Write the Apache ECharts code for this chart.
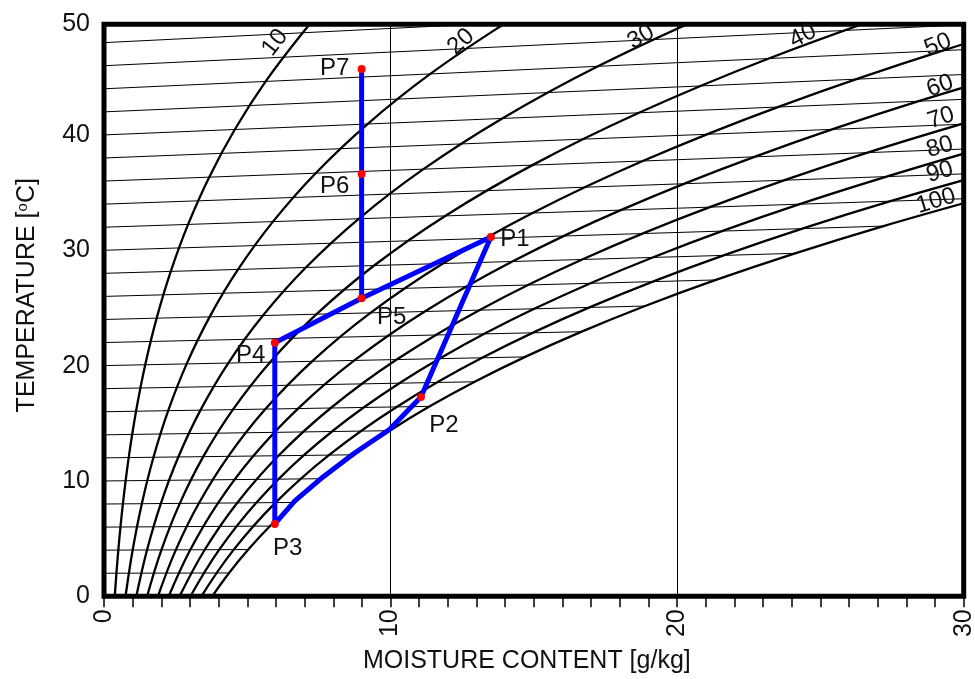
<!DOCTYPE html>
<html><head><meta charset="utf-8">
<script src="https://cdn.jsdelivr.net/npm/echarts@6/dist/echarts.min.js"></script>
<style>html,body{margin:0;padding:0;background:#fff}#c{width:975px;height:679px}</style>
</head><body><div id="c"></div><script>
// ---- data ----
const xTickLabels = ['0', '10', '20', '30'];
const yTickLabels = ['0', '10', '20', '30', '40', '50'];
const rhLevels = ['10', '20', '30', '40', '50', '60', '70', '80', '90', '100'];

// relative humidity curves: [moisture g/kg, chart temperature]
const rh10 = [[0.3755,0],[0.4998,4.0051],[0.6594,8.0136],[0.8623,12.0266],[1.1183,16.046],[1.439,20.074],[1.8378,24.1134],[2.3302,28.1677],[2.9345,32.2413],[3.6712,36.3397],[4.5645,40.4692],[5.6415,44.638],[6.934,48.8554],[7.671,50.986]];
const rh20 = [[0.7514,0],[1.0004,4.0103],[1.3202,8.0271],[1.7271,12.0533],[2.2407,16.0921],[2.8848,20.1483],[3.6865,24.2274],[4.678,28.3366],[5.8967,32.4849],[7.386,36.6834],[9.1964,40.9454],[11.3863,45.2876],[14.0242,49.73],[15.534,51.996]];
const rh30 = [[1.1278,0],[1.5018,4.0154],[1.9823,8.0408],[2.5942,12.08],[3.3671,16.1385],[4.3372,20.2229],[5.5462,24.3421],[7.0434,28.5068],[8.8872,32.7309],[11.1451,37.0312],[13.8973,41.4286],[17.2371,45.9492],[21.2762,50.6247]];
const rh40 = [[1.5047,0],[2.004,4.0206],[2.6459,8.0544],[3.4637,12.1068],[4.4975,16.1849],[5.7963,20.2979],[7.417,24.4575],[9.4268,28.6784],[11.9062,32.9792],[14.9493,37.3831],[18.6688,41.9191],[23.1972,46.6232],[28.695,51.5398]];
const rh50 = [[1.8819,0],[2.507,4.0258],[3.3109,8.0681],[4.3357,12.1337],[5.6321,16.2316],[7.2624,20.3733],[9.299,24.5736],[11.8283,28.8512],[14.9544,33.2299],[18.7997,37.7394],[23.5125,42.4171],[29.2694,47.3098],[36.2876,52.4764]];
const rh60 = [[2.2597,0],[3.0108,4.031],[3.9773,8.0818],[5.21,12.1607],[6.7708,16.2784],[8.7352,20.449],[11.1922,24.6903],[14.2482,29.0253],[18.032,33.483],[22.6968,38.0999],[28.4299,42.9226],[35.4573,48.0096]];
const rh70 = [[2.6379,0],[3.5155,4.0361],[4.6452,8.0955],[6.0869,12.1877],[7.9136,16.3254],[10.215,20.5251],[13.0968,24.8078],[16.6866,29.2008],[21.1394,33.7385],[26.6414,38.4649],[33.4227,43.4359]];
const rh80 = [[3.0166,0],[4.0209,4.0413],[5.3144,8.1093],[6.9662,12.2148],[9.0607,16.3726],[11.7018,20.6015],[15.013,24.926],[19.1437,29.3776],[24.2771,33.9966],[30.635,38.8344]];
const rh90 = [[3.3958,0],[4.5272,4.0465],[5.9852,8.1231],[7.848,12.242],[10.2119,16.4199],[13.1955,20.6782],[16.9406,25.0449],[21.62,29.5558],[27.4458,34.2571],[34.678,39.208]];
const rh100 = [[3.7754,0],[4.3643,2.0224],[5.0343,4.0518],[5.7956,6.0894],[6.6573,8.1369],[7.632,10.1961],[8.7322,12.2693],[9.9725,14.3588],[11.3672,16.4674],[12.9363,18.5984],[14.6963,20.7554],[16.67,22.9425],[18.8801,25.1645],[21.3524,27.4268],[24.1154,29.7354],[27.2016,32.0973],[30.6454,34.5203]];

// thin isotherm lines: start at (0, T), end on saturation curve or right edge
const isoTemps = [2,4,6,8,10,12,14,16,18,20,22,24,26,28,30,32,34,36,38,40,42,44,46,48];
const isoEndW  = [4.3643,5.0343,5.7956,6.6573,7.632,8.7322,9.9725,11.3672,12.9363,14.6963,16.67,18.8801,21.3524,24.1154,27.2016,30,30,30,30,30,30,30,30,30];
const isoEndT  = [2.0224,4.0518,6.0894,8.1369,10.1961,12.2693,14.3588,16.4674,18.5984,20.7554,22.9425,25.1645,27.4268,29.7354,32.0973,34.467,36.621,38.776,40.930,43.084,45.238,47.392,49.547,51.701];

// process states
const pointNames = ['P1','P2','P3','P4','P5','P6','P7'];
const pointW = [13.50, 11.06, 5.96, 5.96, 8.99, 8.99, 8.99];
const pointT = [31.15, 17.28, 6.27, 21.99, 25.84, 36.61, 45.72];

// process path P7-P6-P5-P1-P2-(along saturation)-P3-P4-P5
const pathW = [8.99, 8.99, 8.99, 13.50, 11.06, 9.97, 8.73, 7.63, 6.66, 5.96, 5.96, 8.99];
const pathT = [45.72, 36.61, 25.84, 31.15, 17.28, 14.48, 12.40, 10.33, 8.27, 6.27, 21.99, 25.84];

// RH curve label anchors
const rhLabelW = [5.967, 12.457, 18.74, 24.39, 29.10, 29.17, 29.21, 29.17, 29.17, 29.03];
const rhLabelT = [47.99, 48.08, 48.49, 48.58, 47.80, 44.24, 41.47, 38.95, 36.78, 34.27];

// ---- styling ----
const FONT = 'Liberation Sans';
const TXT = '#111';
const rhRotate = [52, 42, 30, 27, 22, 20, 18, 17, 17, 17];
const pLabelOffset = {P1:[24,2], P2:[23,28], P3:[13,24], P4:[-24,13], P5:[30,19], P6:[-27,12], P7:[-27,-1]};

const series = [];
isoTemps.forEach((t, i) => {
  series.push({type:'line', data:[[0, t], [isoEndW[i], isoEndT[i]]], symbol:'none', silent:true,
    lineStyle:{color:'#000', width:1}, z:1});
});
[rh10, rh20, rh30, rh40, rh50, rh60, rh70, rh80, rh90, rh100].forEach(d => {
  series.push({type:'line', data:d, smooth:0.4, symbol:'none', silent:true,
    lineStyle:{color:'#000', width:2.3}, z:2});
});
series.push({type:'line', data:pathW.map((w, i) => [w, pathT[i]]), symbol:'none', silent:true,
  lineStyle:{color:'#0000ff', width:5, join:'round', cap:'round'}, z:3});
series.push({type:'scatter', symbolSize:8, itemStyle:{color:'#ff0000', opacity:1}, z:4, silent:true,
  data: pointNames.map((n, i) => ({name:n, value:[pointW[i], pointT[i]], label:{offset:pLabelOffset[n]}})),
  label:{show:true, position:'inside', formatter:'{b}', fontSize:24, fontFamily:FONT, color:TXT, opacity:1}});
series.push({type:'scatter', symbolSize:0, z:5, silent:true, itemStyle:{opacity:1},
  data: rhLevels.map((s, i) => ({name:s, value:[rhLabelW[i], rhLabelT[i]], label:{rotate:rhRotate[i]}})),
  label:{show:true, position:'inside', formatter:'{b}', fontSize:24, fontFamily:FONT, color:TXT, opacity:1}});

const chart = echarts.init(document.getElementById('c'), null, {renderer:'canvas'});
chart.setOption({
  animation:false,
  backgroundColor:'#fff',
  grid:{left:104, right:11.3, top:24.2, bottom:82.7, show:true, borderColor:'#000', borderWidth:5, outerBoundsMode:'none', containLabel:false},
  xAxis:{type:'value', min:0, max:30, interval:10,
    name:'MOISTURE CONTENT [g/kg]', nameLocation:'middle', nameGap:52,
    nameTextStyle:{fontSize:25, fontFamily:FONT, color:TXT, padding:[0,14,0,0]},
    axisLine:{show:false},
    axisTick:{show:true, length:11, lineStyle:{color:'#000', width:1.5}},
    minorTick:{show:true, splitNumber:10, length:11, lineStyle:{color:'#000', width:1.5}},
    axisLabel:{rotate:90, margin:13, fontSize:25, fontFamily:FONT, color:TXT,
      formatter:(v) => xTickLabels[Math.round(v / 10)]},
    splitLine:{show:true, lineStyle:{color:'#000', width:1}}},
  yAxis:{type:'value', min:0, max:49.6, interval:10,
    name:'TEMPERATURE [{s|o}C]', nameLocation:'middle', nameGap:64,
    nameTextStyle:{fontSize:25, fontFamily:FONT, color:TXT, padding:[0,0,0,30],
      rich:{s:{fontSize:15, fontFamily:FONT, color:TXT, verticalAlign:'top', padding:[0,0,8,0]}}},
    axisLine:{show:false}, axisTick:{show:false},
    axisLabel:{margin:14, fontSize:25, fontFamily:FONT, color:TXT,
      formatter:(v) => yTickLabels[Math.round(v / 10)]},
    splitLine:{show:false}},
  series
});
</script></body></html>
